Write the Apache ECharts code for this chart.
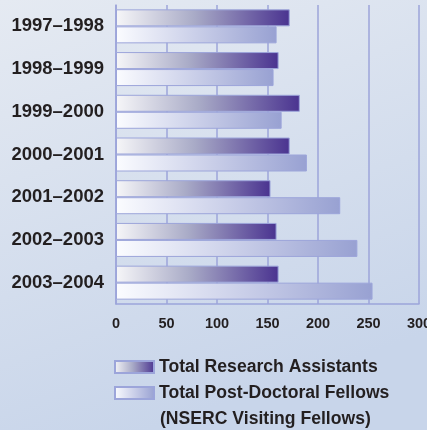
<!DOCTYPE html>
<html>
<head>
<meta charset="utf-8">
<script src="https://cdn.jsdelivr.net/npm/echarts@6/dist/echarts.min.js"></script>
<style>
  html, body { margin: 0; padding: 0; }
  #chart { width: 427px; height: 430px; }
</style>
</head>
<body>
<div id="chart"></div>
<script>
// Academic years shown on the category axis
const years = ['1997–1998', '1998–1999', '1999–2000', '2000–2001', '2001–2002', '2002–2003', '2003–2004'];
// Totals per year
const researchAssistants = [172, 161, 182, 172, 153, 159, 161];
const postDocFellows = [159, 156, 164, 189, 222, 239, 254];
// Value axis ticks
const xTicks = [0, 50, 100, 150, 200, 250, 300];

const raName = 'Total Research Assistants';
const pdfName = 'Total Post-Doctoral Fellows';
const pdfNote = '(NSERC Visiting Fellows)';

const FONT = '"Liberation Sans Narrow", "Arial Narrow", "Liberation Sans", sans-serif';
const INK = '#231f20';
const RULE = '#9ca5da';

const raGradient = new echarts.graphic.LinearGradient(0, 0, 1, 0, [
  { offset: 0, color: '#f6f6f8' },
  { offset: 0.45, color: '#a9abc7' },
  { offset: 1, color: '#4a3390' }
]);
const pdfGradient = new echarts.graphic.LinearGradient(0, 0, 1, 0, [
  { offset: 0, color: '#fbfcff' },
  { offset: 1, color: '#98a1d2' }
]);

const chart = echarts.init(document.getElementById('chart'), null, { renderer: 'canvas' });
chart.setOption({
  animation: false,
  backgroundColor: new echarts.graphic.LinearGradient(0, 0, 0.35, 1, [
    { offset: 0, color: '#e5eaf2' },
    { offset: 1, color: '#c8d5ea' }
  ]),
  grid: { left: 116, right: 8, top: 5, bottom: 126, containLabel: false, outerBoundsMode: 'none' },
  xAxis: {
    type: 'value',
    min: xTicks[0],
    max: xTicks[xTicks.length - 1],
    interval: xTicks[1] - xTicks[0],
    axisLine: { show: true, lineStyle: { color: RULE, width: 1.5 } },
    axisTick: { show: false },
    axisLabel: {
      margin: 12,
      color: INK,
      fontFamily: FONT,
      fontWeight: 'bold',
      fontSize: 14.5,
      showMinLabel: true,
      showMaxLabel: true,
      hideOverlap: false
    },
    splitLine: { show: true, lineStyle: { color: RULE, width: 1.5 } }
  },
  yAxis: {
    type: 'category',
    data: years,
    inverse: true,
    axisLine: { show: true, lineStyle: { color: RULE, width: 1.5 } },
    axisTick: { show: false },
    axisLabel: {
      margin: 12,
      color: INK,
      fontFamily: FONT,
      fontWeight: 'bold',
      fontSize: 18.5
    }
  },
  legend: {
    orient: 'vertical',
    left: 114,
    top: 354,
    padding: 0,
    itemWidth: 39,
    itemHeight: 12,
    itemGap: 0,
    icon: 'rect',
    selectedMode: false,
    textStyle: {
      color: INK,
      fontFamily: FONT,
      fontWeight: 'bold',
      fontSize: 17.6,
      lineHeight: 26
    },
    data: [raName, pdfName]
  },
  graphic: [{
    type: 'text',
    left: 160,
    top: 410,
    style: {
      text: pdfNote,
      fill: INK,
      font: 'bold 17.6px ' + FONT
    }
  }],
  series: [
    {
      name: raName,
      type: 'bar',
      data: researchAssistants,
      barWidth: 17,
      barGap: '0%',
      itemStyle: { color: raGradient, borderColor: RULE, borderWidth: 1 }
    },
    {
      name: pdfName,
      type: 'bar',
      data: postDocFellows,
      barWidth: 17,
      barGap: '0%',
      itemStyle: { color: pdfGradient, borderColor: RULE, borderWidth: 1 }
    }
  ]
});
</script>
</body>
</html>
